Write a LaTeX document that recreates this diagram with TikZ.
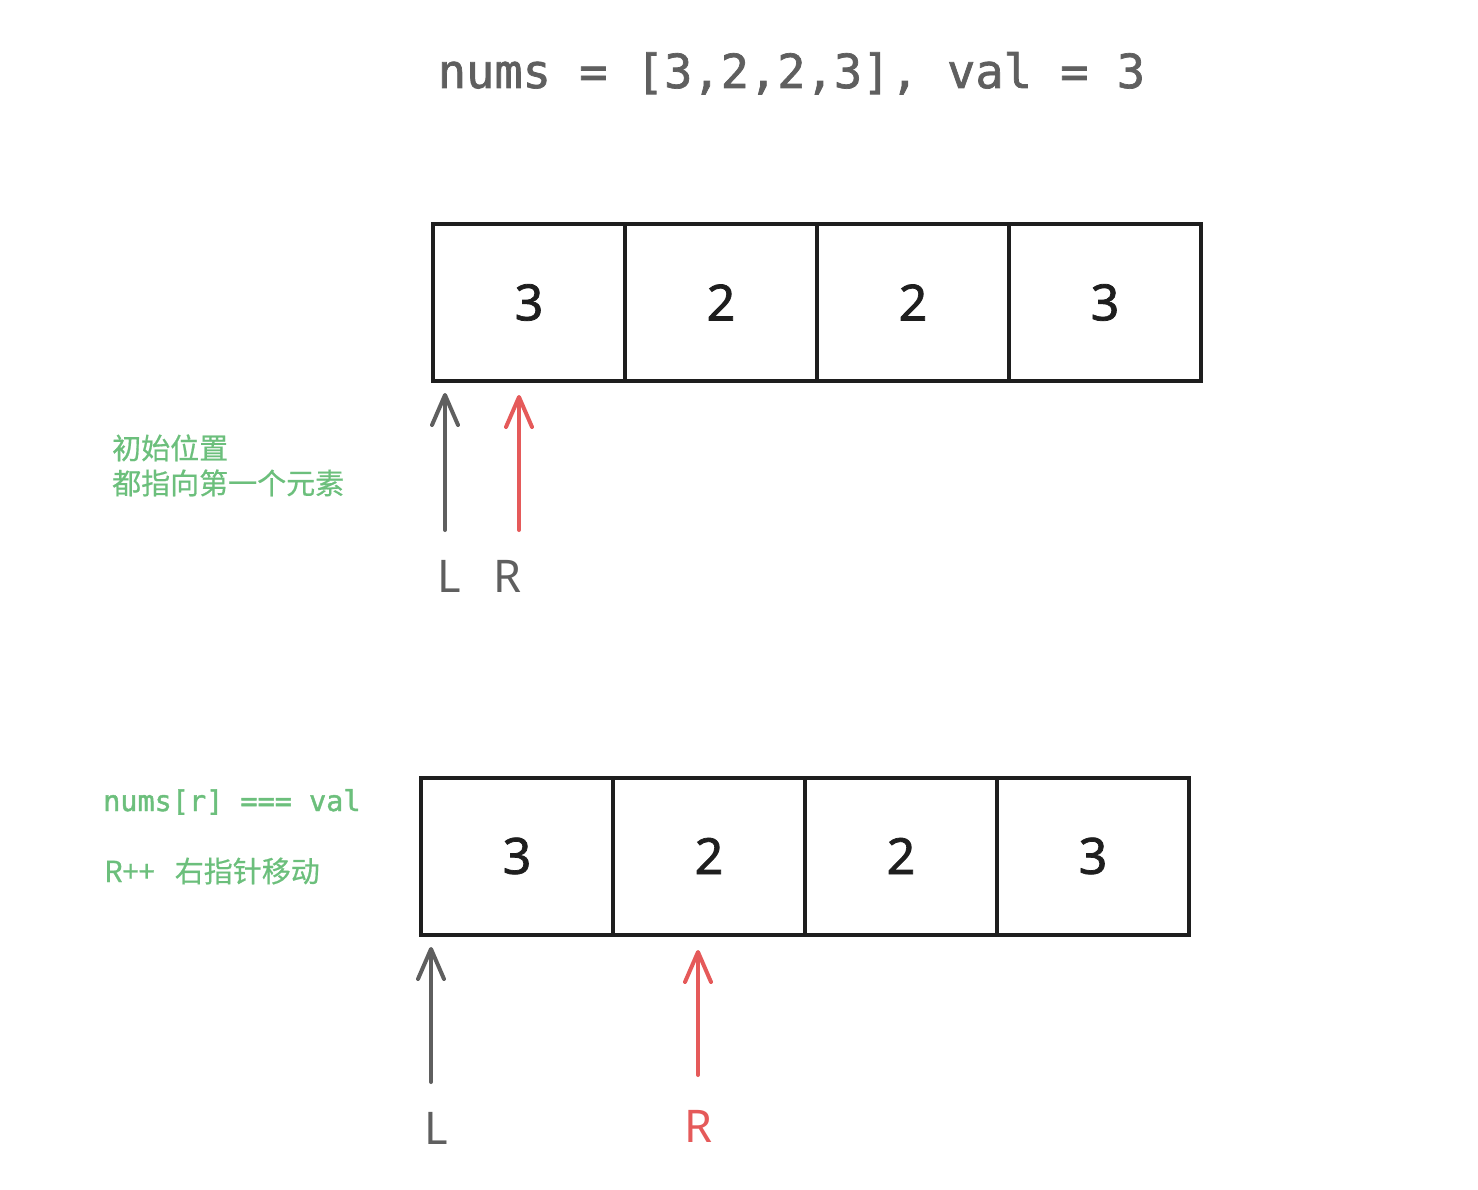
\documentclass[tikz,border=0pt]{standalone}
\usepackage{fontspec}
\setmainfont{Noto Sans}
\setmonofont{DejaVu Sans Mono}
\newfontfamily\cjk[FakeBold=0.6]{Noto Sans CJK SC}
\newfontfamily\numfont[FakeBold=1.5]{Noto Sans}
\newfontfamily\codefont[FakeBold=1.5]{DejaVu Sans Mono}
\usetikzlibrary{
    arrows.meta,
    positioning
}
\definecolor{inkgray}{HTML}{5F5F5F}
\definecolor{notegreen}{HTML}{6CBF7C}
\definecolor{ptrred}{HTML}{E55A5A}
\definecolor{boxblack}{HTML}{1E1E1E}

\begin{document}
\begin{tikzpicture}[x=1pt, y=-1pt,
    cell/.style={draw=boxblack, line width=4pt, minimum width=192pt, minimum height=157pt,
        inner sep=0pt, text=boxblack, font=\fontsize{50}{50}\numfont},
    ptr/.style={line width=4pt, line cap=round,
        -{Straight Barb[length=30pt, width=26pt, line cap=round, line join=round]}},
    lbl/.style={anchor=base west, inner sep=0pt, font=\fontsize{45}{45}\selectfont},
    note/.style={anchor=base west, inner sep=0pt, text=notegreen}]
    \useasboundingbox (0,0) rectangle (1478,1190);

    % title
    \node[anchor=base, inner sep=0pt, text=inkgray, font=\fontsize{47}{47}\codefont]
        (title) at (791.5,88) {nums = [3,2,2,3], val = 3};

    % first state
    \foreach \v [count=\i] in {3,2,2,3}
        \node[cell] (top\i) at ({529+192*(\i-1)}, 302.5) {\v};
    \node[note, font=\fontsize{29}{29}\cjk] (initA) at (112,459) {初始位置};
    \node[note, font=\fontsize{29}{29}\cjk] (initB) at (112,494) {都指向第一个元素};
    \node[lbl, text=inkgray] (topL) at (437,592) {L};
    \node[lbl, text=inkgray] (topR) at (493,592) {R};
    \coordinate (topLtail) at (445,530);
    \coordinate (topRtail) at (519,530);
    \draw[ptr, inkgray] (topLtail) -- (445,393);
    \draw[ptr, ptrred] (topRtail) -- (519,395);

    % second state
    \foreach \v [count=\i] in {3,2,2,3}
        \node[cell] (bot\i) at ({517+192*(\i-1)}, 856) {\v};
    \node[note, font=\fontsize{28.5}{28.5}\codefont] (cond) at (103,811) {nums[r] === val};
    \node[note, font=\fontsize{29}{29}\cjk] (move) at (104,882) {R++\hspace{20pt}右指针移动};
    \node[lbl, text=inkgray] (botL) at (424,1144) {L};
    \node[lbl, text=ptrred] (botR) at (684,1142) {R};
    \coordinate (botLtail) at (431,1082);
    \coordinate (botRtail) at (698,1075);
    \draw[ptr, inkgray] (botLtail) -- (431,947);
    \draw[ptr, ptrred] (botRtail) -- (698,950);
\end{tikzpicture}
\end{document}
